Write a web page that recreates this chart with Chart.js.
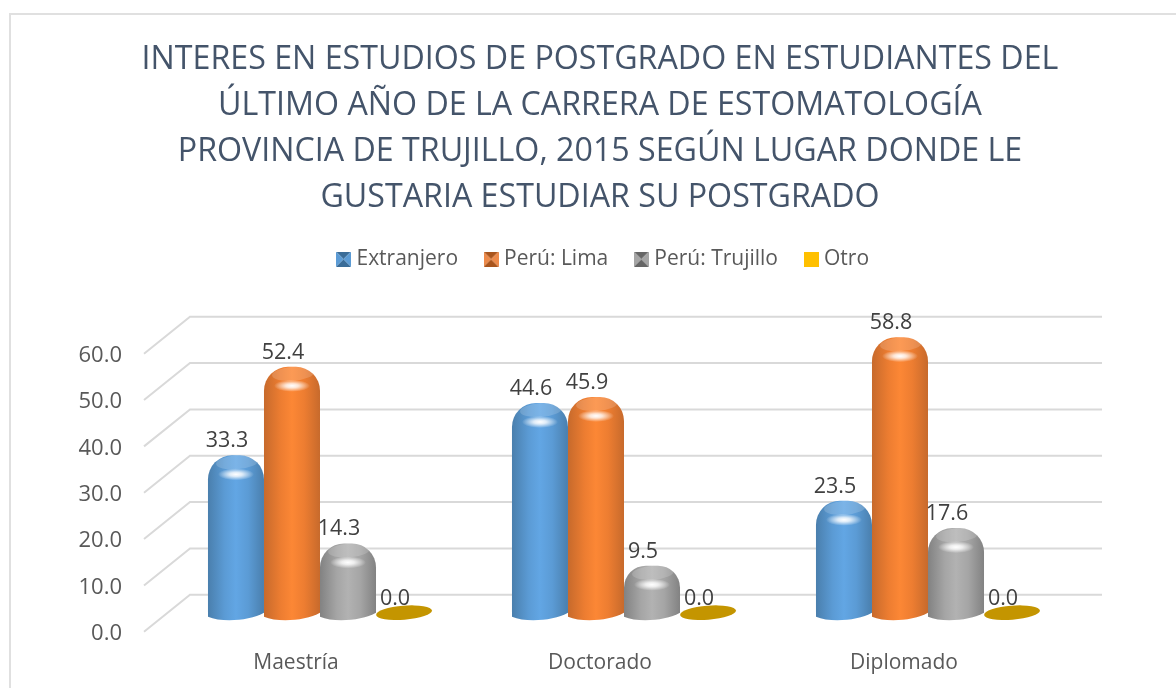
<!DOCTYPE html>
<html>
<head>
<meta charset="utf-8">
<title>Interes en estudios de postgrado</title>
<script src="https://cdn.jsdelivr.net/npm/chart.js@4"></script>
<style>
    html, body { margin: 0; padding: 0; height: 688px; background: #fff; overflow: hidden; }
    .frame { position: absolute; left: 9px; top: 13px; width: 1300px; height: 800px; border: 2px solid #e0e0e0; }
    canvas { position: absolute; left: 0; top: 0; }
</style>
</head>
<body>
<div class="frame"></div>
<canvas id="chart" width="1176" height="693"></canvas>
<script>
// datos
const categories = ['Maestría', 'Doctorado', 'Diplomado'];
const extranjero = [33.3, 44.6, 23.5];
const peruLima = [52.4, 45.9, 58.8];
const peruTrujillo = [14.3, 9.5, 17.6];
const otro = [0.0, 0.0, 0.0];
const titleLines = [
    'INTERES EN ESTUDIOS DE POSTGRADO EN ESTUDIANTES DEL',
    'ÚLTIMO AÑO DE LA CARRERA DE ESTOMATOLOGÍA',
    'PROVINCIA DE TRUJILLO, 2015 SEGÚN LUGAR DONDE LE',
    'GUSTARIA ESTUDIAR SU POSTGRADO'
];

const FONT = '"Open Sans", sans-serif';
const DEPTH_X = 23;
const shades = [
    ['#4a7fad', '#5b9bd5', '#62a6e4', '#5b9bd5', '#4a7fad'],
    ['#c76a2c', '#ed7d31', '#fc8735', '#ed7d31', '#c76a2c'],
    ['#828282', '#a5a5a5', '#b2b2b2', '#a5a5a5', '#828282'],
    ['#c49500', '#c49500', '#c49500', '#c49500', '#c49500']
];
const stops = [0, 0.3, 0.5, 0.72, 1];

function barGradient(ctx, x, w, colors) {
    const g = ctx.createLinearGradient(x - w / 2, 0, x + w / 2, 0);
    colors.forEach((c, i) => g.addColorStop(stops[i], c));
    return g;
}

// degradado horizontal de cada barra
function bodyFill(c) {
    if (c.dataIndex === undefined) return shades[c.datasetIndex][1];
    const xs = c.chart.scales.x;
    const w = xs.width / categories.length * 0.737 / 4;
    const x = xs.getPixelForValue(c.dataIndex) + (c.datasetIndex - 1.5) * w;
    return barGradient(c.chart.ctx, x, w, shades[c.datasetIndex]);
}

function legendIcon(dark, light) {
    const s = 15, cv = document.createElement('canvas');
    cv.width = s; cv.height = s;
    const g = cv.getContext('2d');
    const tri = (pts, col) => {
        g.fillStyle = col;
        g.beginPath();
        pts.forEach((p, i) => i ? g.lineTo(p[0], p[1]) : g.moveTo(p[0], p[1]));
        g.closePath();
        g.fill();
    };
    tri([[0, 0], [s, 0], [s / 2, s / 2]], dark);
    tri([[0, s], [s, s], [s / 2, s / 2]], dark);
    tri([[0, 0], [0, s], [s / 2, s / 2]], light);
    tri([[s, 0], [s, s], [s / 2, s / 2]], light);
    return cv;
}

function flatIcon(col) {
    const cv = document.createElement('canvas');
    cv.width = 15; cv.height = 15;
    const g = cv.getContext('2d');
    g.fillStyle = col;
    g.fillRect(0, 0, 15, 15);
    return cv;
}

const legendIcons = [
    legendIcon('#3a6c98', '#5b9bd5'),
    legendIcon('#a9551d', '#ed8a4a'),
    legendIcon('#666666', '#a5a5a5'),
    flatIcon('#ffc000')
];

// deja el hueco bajo la leyenda y la centra como en el original
const legendGap = {
    id: 'legendGap',
    beforeInit(chart) {
        const fit = chart.legend.fit;
        chart.legend.fit = function () {
            fit.call(this);
            this.height += 76;
        };
    },
    afterLayout(chart) {
        chart.legend.left += 10;
    }
};

// pared y piso de la vista 3D, a partir de la escala y
const wallGrid = {
    id: 'wallGrid',
    beforeDatasetsDraw(chart) {
        const { ctx, chartArea, scales } = chart;
        ctx.save();
        ctx.strokeStyle = '#d9d9d9';
        ctx.lineWidth = 2;
        scales.y.ticks.forEach(t => {
            const y = scales.y.getPixelForValue(t.value);
            ctx.beginPath();
            ctx.moveTo(chartArea.left - DEPTH_X - 1, y - 2);
            ctx.lineTo(chartArea.left + DEPTH_X - 1, y - 39);
            ctx.lineTo(chartArea.right + DEPTH_X - 1, y - 39);
            ctx.stroke();
        });
        ctx.restore();
    }
};

// cilindros: base, tapa, brillo y etiqueta de valor
const cylinders = {
    id: 'cylinders',
    beforeDatasetsDraw(chart) {
        const ctx = chart.ctx;
        chart.data.datasets.forEach((ds, di) => {
            chart.getDatasetMeta(di).data.forEach((el, i) => {
                if (ds.data[i] === 0) return;
                const l = el.x - el.width / 2, r = el.x + el.width / 2;
                ctx.save();
                ctx.fillStyle = barGradient(ctx, el.x, el.width, shades[di]);
                ctx.beginPath();
                ctx.moveTo(l, el.base - 1);
                ctx.lineTo(l, el.base + 7);
                ctx.bezierCurveTo(el.x - el.width / 4, el.base + 13, el.x + el.width / 4, el.base + 11, r, el.base + 3);
                ctx.lineTo(r, el.base - 1);
                ctx.closePath();
                ctx.fill();
                ctx.restore();
            });
        });
    },
    afterDatasetsDraw(chart) {
        const ctx = chart.ctx;
        chart.data.datasets.forEach((ds, di) => {
            chart.getDatasetMeta(di).data.forEach((el, i) => {
                const v = ds.data[i];
                ctx.save();
                if (v === 0) {
                    ctx.fillStyle = '#c49500';
                    ctx.beginPath();
                    ctx.ellipse(el.x, el.base + 3, el.width / 2, 7, -0.08, 0, Math.PI * 2);
                    ctx.fill();
                } else {
                    ctx.fillStyle = 'rgba(255,255,255,0.16)';
                    ctx.beginPath();
                    ctx.ellipse(el.x + 1, el.y + 7, el.width / 2 - 7, 7, -0.08, 0, Math.PI * 2);
                    ctx.fill();
                    const glow = ctx.createRadialGradient(0, 0, 0, 0, 0, 1);
                    glow.addColorStop(0, 'rgba(255,255,255,1)');
                    glow.addColorStop(0.35, 'rgba(255,255,255,0.8)');
                    glow.addColorStop(1, 'rgba(255,255,255,0)');
                    ctx.translate(el.x, el.y + 19);
                    ctx.scale(18, 6);
                    ctx.fillStyle = glow;
                    ctx.beginPath();
                    ctx.arc(0, 0, 1, 0, Math.PI * 2);
                    ctx.fill();
                }
                ctx.restore();
                ctx.save();
                ctx.fillStyle = '#404040';
                ctx.font = '21.5px ' + FONT;
                ctx.textAlign = 'center';
                ctx.textBaseline = 'alphabetic';
                ctx.fillText(v.toFixed(1), el.x - 9, v === 0 ? el.y - 5 : el.y - 8);
                ctx.restore();
            });
        });
    }
};

const seriesNames = ['Extranjero', 'Perú: Lima', 'Perú: Trujillo', 'Otro'];
const seriesValues = [extranjero, peruLima, peruTrujillo, otro];

new Chart(document.getElementById('chart'), {
    type: 'bar',
    data: {
        labels: categories,
        datasets: seriesNames.map((name, i) => ({
            label: name,
            data: seriesValues[i],
            yAxisID: 'yBars',
            clip: false,
            backgroundColor: bodyFill,
            borderWidth: 0,
            borderRadius: { topLeft: 24, topRight: 24, bottomLeft: 0, bottomRight: 0 },
            borderSkipped: false,
            categoryPercentage: 0.737,
            barPercentage: 1
        }))
    },
    options: {
        responsive: false,
        animation: false,
        layout: { padding: { left: 24, top: 10 } },
        plugins: {
            title: {
                display: true,
                text: titleLines,
                color: '#44546a',
                font: { family: FONT, size: 32.2, weight: 'normal', lineHeight: 1.43 },
                padding: { top: 27, bottom: -3 }
            },
            legend: {
                position: 'top',
                labels: {
                    color: '#595959',
                    font: { family: FONT, size: 21 },
                    usePointStyle: true,
                    pointStyleWidth: 5,
                    padding: 30.5,
                    generateLabels: () => seriesNames.map((name, i) => ({
                        text: name,
                        fontColor: '#595959',
                        pointStyle: legendIcons[i],
                        lineWidth: 0,
                        datasetIndex: i
                    }))
                }
            },
            tooltip: { enabled: false }
        },
        scales: {
            x: {
                grid: { display: false },
                border: { display: false },
                ticks: {
                    color: '#595959',
                    font: { family: FONT, size: 21 },
                    labelOffset: -24,
                    padding: 9,
                    maxRotation: 0
                },
                afterFit(s) { s.height = 57; }
            },
            y: {
                min: 0,
                max: 60,
                grid: { display: false, drawTicks: false },
                border: { display: false },
                ticks: {
                    stepSize: 10,
                    color: '#595959',
                    font: { family: FONT, size: 22 },
                    padding: 46,
                    callback: v => v.toFixed(1)
                },
                afterFit(s) { s.width = 144; }
            },
            yBars: {
                position: 'right',
                min: -5.2,
                max: 54.8,
                grid: { display: false, drawTicks: false },
                border: { display: false },
                ticks: { display: false },
                afterFit(s) { s.width = 96; }
            }
        }
    },
    plugins: [legendGap, wallGrid, cylinders]
});
</script>
</body>
</html>
